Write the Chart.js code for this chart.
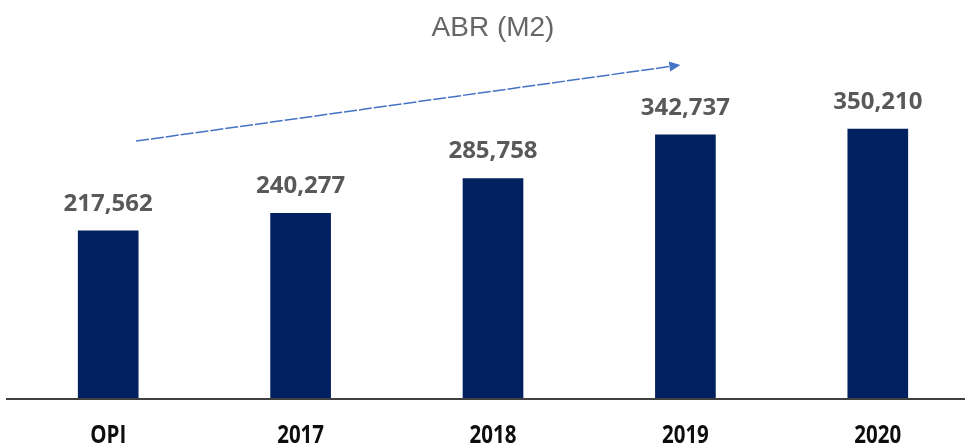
<!DOCTYPE html>
<html lang="es">
<head>
    <meta charset="UTF-8">
    <title>ABR (M2)</title>
    <script src="https://cdn.jsdelivr.net/npm/chart.js"></script>
    <style>
        html, body {
            margin: 0;
            padding: 0;
            background: #ffffff;
            overflow: hidden;
        }
        /* un poco mas ancho que la ventana: el grafico original esta recortado a la derecha */
        #abrChart {
            position: absolute;
            top: 0;
            left: 0;
        }
    </style>
</head>
<body>
    <canvas id="abrChart" width="975" height="444"></canvas>

    <script>
        // datos
        var categorias = ['OPI', '2017', '2018', '2019', '2020'];
        var abr = [217562, 240277, 285758, 342737, 350210];
        var yMax = 440000;

        // flecha de tendencia (en coordenadas de la escala)
        var flechaDesde = { x: 0.145, y: 334500 };
        var flechaHasta = { x: 2.974, y: 433500 };

        // etiquetas de valor sobre cada barra
        var etiquetasValor = {
            id: 'etiquetasValor',
            afterDatasetsDraw: function (chart) {
                var ctx = chart.ctx;
                var meta = chart.getDatasetMeta(0);
                ctx.save();
                ctx.font = 'bold 24px "Open Sans"';
                ctx.fillStyle = '#595959';
                ctx.textAlign = 'center';
                ctx.textBaseline = 'alphabetic';
                meta.data.forEach(function (bar, i) {
                    ctx.fillText(abr[i].toLocaleString('en-US'), bar.x, bar.y - 20);
                });
                ctx.restore();
            }
        };

        // linea base, etiquetas del eje (letra estrecha) y flecha azul
        var extras = {
            id: 'extras',
            afterDraw: function (chart) {
                var ctx = chart.ctx;
                var xs = chart.scales.x;
                var ys = chart.scales.y;
                var y0 = ys.getPixelForValue(0);

                ctx.save();
                ctx.strokeStyle = '#404040';
                ctx.lineWidth = 2;
                ctx.beginPath();
                ctx.moveTo(chart.chartArea.left - 6, y0 + 1);
                ctx.lineTo(chart.width, y0 + 1);
                ctx.stroke();

                // etiquetas de categoria, comprimidas a lo ancho
                ctx.font = 'bold 25px "Open Sans"';
                ctx.fillStyle = '#0d0d0d';
                ctx.textAlign = 'center';
                ctx.textBaseline = 'alphabetic';
                categorias.forEach(function (c, i) {
                    ctx.save();
                    ctx.translate(xs.getPixelForValue(i), y0 + 45);
                    ctx.scale(0.82, 1);
                    ctx.fillText(c, 0, 0);
                    ctx.restore();
                });

                var x1 = xs.getPixelForValue(flechaDesde.x);
                var y1 = ys.getPixelForValue(flechaDesde.y);
                var x2 = xs.getPixelForValue(flechaHasta.x);
                var y2 = ys.getPixelForValue(flechaHasta.y);
                var ang = Math.atan2(y2 - y1, x2 - x1);

                ctx.strokeStyle = '#4472C4';
                ctx.fillStyle = '#4472C4';
                ctx.lineWidth = 1.5;
                ctx.setLineDash([13, 2]);
                ctx.beginPath();
                ctx.moveTo(x1, y1);
                ctx.lineTo(x2 - 8 * Math.cos(ang), y2 - 8 * Math.sin(ang));
                ctx.stroke();

                ctx.setLineDash([]);
                ctx.beginPath();
                ctx.moveTo(x2, y2);
                ctx.lineTo(x2 - 11 * Math.cos(ang) + 5 * Math.sin(ang), y2 - 11 * Math.sin(ang) - 5 * Math.cos(ang));
                ctx.lineTo(x2 - 11 * Math.cos(ang) - 5 * Math.sin(ang), y2 - 11 * Math.sin(ang) + 5 * Math.cos(ang));
                ctx.closePath();
                ctx.fill();
                ctx.restore();
            }
        };

        var ctx = document.getElementById('abrChart').getContext('2d');
        var chart = new Chart(ctx, {
            type: 'bar',
            data: {
                labels: categorias,
                datasets: [{
                    label: 'ABR (M2)',
                    data: abr,
                    backgroundColor: '#002060',
                    borderWidth: 0,
                    barThickness: 60
                }]
            },
            options: {
                responsive: false,
                animation: false,
                layout: {
                    padding: { left: 12, right: 1, top: 0, bottom: 46 }
                },
                plugins: {
                    legend: { display: false },
                    tooltip: { enabled: false },
                    title: {
                        display: true,
                        text: 'ABR (M2)',
                        color: '#666666',
                        font: { family: '"Liberation Sans"', size: 28, weight: 'normal', lineHeight: 1.2 },
                        padding: { top: 11, bottom: 15.4 }
                    }
                },
                scales: {
                    x: {
                        grid: { display: false, drawTicks: false },
                        border: { display: false },
                        ticks: { display: false }
                    },
                    y: {
                        display: false,
                        min: 0,
                        max: yMax
                    }
                }
            },
            plugins: [etiquetasValor, extras]
        });
    </script>
</body>
</html>
